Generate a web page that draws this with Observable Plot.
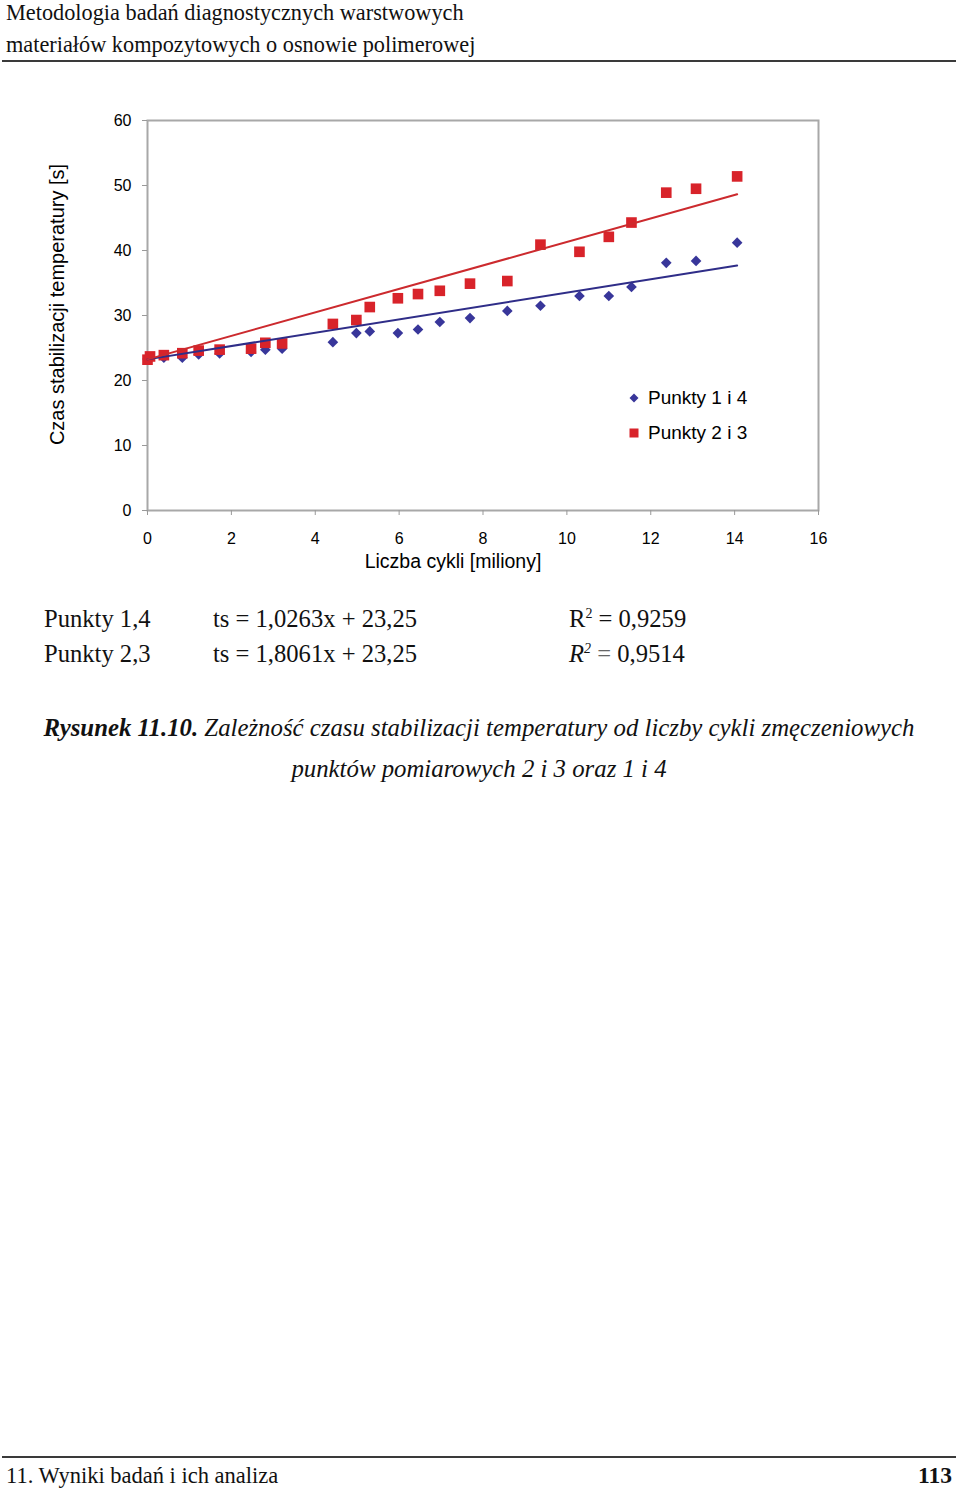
<!DOCTYPE html>
<html><head><meta charset="utf-8">
<script src="https://cdn.jsdelivr.net/npm/d3@7"></script>
<script src="https://cdn.jsdelivr.net/npm/@observablehq/plot@0.6"></script>
<style>
body{margin:0;background:#fff;}
#page{position:relative;width:960px;height:1492px;overflow:hidden;font-family:"Liberation Serif","Times New Roman",serif;color:#111;}
.t{position:absolute;white-space:nowrap;}
.rule{position:absolute;left:2px;width:954px;height:2px;background:#3a3a3a;}
#chart{position:absolute;left:0;top:0;}
.leg{position:absolute;font-family:"Liberation Sans",Arial,sans-serif;font-size:19px;line-height:19px;color:#000;white-space:nowrap;}
</style></head><body><div id="page">
<div class="t" style="left:6px;top:2px;font-size:22.3px;line-height:22px;">Metodologia badań diagnostycznych warstwowych</div>
<div class="t" style="left:6px;top:34px;font-size:22.3px;line-height:22px;">materiałów kompozytowych o osnowie polimerowej</div>
<div class="rule" style="top:60px;"></div>
<div id="chart"></div>
<div id="legend"></div>
<div class="t" style="left:44px;top:607px;font-size:24.6px;line-height:24px;">Punkty 1,4</div>
<div class="t" style="left:213px;top:607px;font-size:24.6px;line-height:24px;">ts = 1,0263x + 23,25</div>
<div class="t" style="left:569px;top:607px;font-size:24.6px;line-height:24px;">R<sup style="font-size:14px;vertical-align:9px;line-height:0">2</sup> = 0,9259</div>
<div class="t" style="left:44px;top:642px;font-size:24.6px;line-height:24px;">Punkty 2,3</div>
<div class="t" style="left:213px;top:642px;font-size:24.6px;line-height:24px;">ts = 1,8061x + 23,25</div>
<div class="t" style="left:569px;top:642px;font-size:24.6px;line-height:24px;"><i>R</i><sup style="font-size:14px;vertical-align:9px;line-height:0;font-style:italic">2</sup> <span style="color:#666">=</span> 0,9514</div>
<div class="t" style="left:0;width:958px;text-align:center;top:716px;font-size:24.8px;line-height:24px;font-style:italic;"><b>Rysunek 11.10.</b> Zależność czasu stabilizacji temperatury od liczby cykli zmęczeniowych</div>
<div class="t" style="left:0;width:958px;text-align:center;top:757px;font-size:24.8px;line-height:24px;font-style:italic;">punktów pomiarowych 2 i 3 oraz 1 i 4</div>
<div class="rule" style="top:1456px;"></div>
<div class="t" style="left:6px;top:1465px;font-size:22.5px;line-height:22px;">11. Wyniki badań i ich analiza</div>
<div class="t" style="right:8px;top:1464px;font-size:23.5px;line-height:22px;font-weight:bold;">113</div>
</div>
<script>
// Series: Punkty 1 i 4 (blue diamonds)
const xBlue = [0, 0.39, 0.83, 1.22, 1.72, 2.47, 2.81, 3.21, 4.42, 4.98, 5.30, 5.97, 6.45, 6.97, 7.69, 8.58, 9.37, 10.30, 11.00, 11.54, 12.37, 13.08, 14.06];
const yBlue = [23.3, 23.5, 23.5, 24.0, 24.15, 24.4, 24.75, 24.9, 25.9, 27.3, 27.55, 27.3, 27.85, 29.0, 29.6, 30.7, 31.5, 33.0, 33.0, 34.4, 38.1, 38.4, 41.2];
// Series: Punkty 2 i 3 (red squares)
const xRed = [0, 0.06, 0.39, 0.83, 1.22, 1.72, 2.47, 2.81, 3.21, 4.42, 4.98, 5.30, 5.97, 6.45, 6.97, 7.69, 8.58, 9.37, 10.30, 11.00, 11.54, 12.37, 13.08, 14.06];
const yRed = [23.2, 23.7, 23.9, 24.2, 24.6, 24.75, 24.9, 25.8, 25.7, 28.7, 29.3, 31.3, 32.65, 33.3, 33.8, 34.9, 35.3, 40.9, 39.8, 42.1, 44.3, 48.9, 49.5, 51.4];
// Trend lines (from the printed equations)
const seriesNames = ["Punkty 1 i 4", "Punkty 2 i 3"];
const trendSlope = [1.0263, 1.8061];
const trendIntercept = [23.25, 23.25];
const trendXRange = [0, 14.06];
// Axes
const xTicks = [0, 2, 4, 6, 8, 10, 12, 14, 16];
const yTicks = [0, 10, 20, 30, 40, 50, 60];
const xAxisLabel = ["Liczba cykli [miliony]"];
const yAxisLabel = ["Czas stabilizacji temperatury [s]"];

const colors = ["#38369a", "#d8232a"];
const lineColors = ["#2f2d88", "#cc2a2e"];

const blueData = xBlue.map((x, i) => ({x, y: yBlue[i]}));
const redData = xRed.map((x, i) => ({x, y: yRed[i]}));
const trendData = trendSlope.map((m, k) => trendXRange.map(x => ({x, y: m * x + trendIntercept[k], s: k})));

const chart = Plot.plot({
  width: 960, height: 600,
  marginLeft: 147, marginRight: 142, marginTop: 120, marginBottom: 90,
  style: {fontFamily: '"Liberation Sans", Arial, sans-serif', fontSize: "16px", background: "transparent", color: "#000"},
  x: {domain: [0, 16]},
  y: {domain: [0, 60]},
  marks: [
    Plot.frame({stroke: "#a8a8a8", strokeWidth: 2}),
    Plot.axisX({ticks: xTicks, tickSize: 5, tickPadding: 17, stroke: "#999", fill: "#000", label: null, fontSize: 16}),
    Plot.axisY({ticks: yTicks, tickSize: 5, tickPadding: 11, stroke: "#999", fill: "#000", label: null, fontSize: 16}),
    Plot.dot(blueData, {x: "x", y: "y", symbol: "diamond2", r: 4.8, fill: colors[0], stroke: "none"}),
    Plot.dot(redData, {x: "x", y: "y", symbol: "square", r: 6, fill: colors[1], stroke: "none"}),
    Plot.line(trendData[0], {x: "x", y: "y", stroke: lineColors[0], strokeWidth: 2}),
    Plot.line(trendData[1], {x: "x", y: "y", stroke: lineColors[1], strokeWidth: 2}),
    Plot.text(xAxisLabel, {text: d => d, frameAnchor: "bottom", dx: -30, dy: 57, fontSize: 19.5, fill: "#000"}),
    Plot.text(yAxisLabel, {text: d => d, frameAnchor: "left", rotate: -90, dx: -90, dy: -11, fontSize: 20, fill: "#000", textAnchor: "middle", lineAnchor: "middle"})
  ]
});
document.getElementById("chart").appendChild(chart);

// Legend
const legend = document.getElementById("legend");
seriesNames.forEach((name, i) => {
  const row = document.createElement("div");
  row.className = "leg";
  row.style.left = "628px";
  row.style.top = (388 + i * 35) + "px";
  const sym = i === 0
    ? `<svg width="12" height="12" style="position:absolute;left:0;top:4px"><path d="M6,1.5L10.5,6L6,10.5L1.5,6Z" fill="${colors[0]}"/></svg>`
    : `<svg width="12" height="12" style="position:absolute;left:0;top:4px"><rect x="1.5" y="1.5" width="9" height="9" fill="${colors[1]}"/></svg>`;
  row.innerHTML = sym + `<span style="position:absolute;left:20px;top:0">${name}</span>`;
  legend.appendChild(row);
});
</script>
</body></html>
